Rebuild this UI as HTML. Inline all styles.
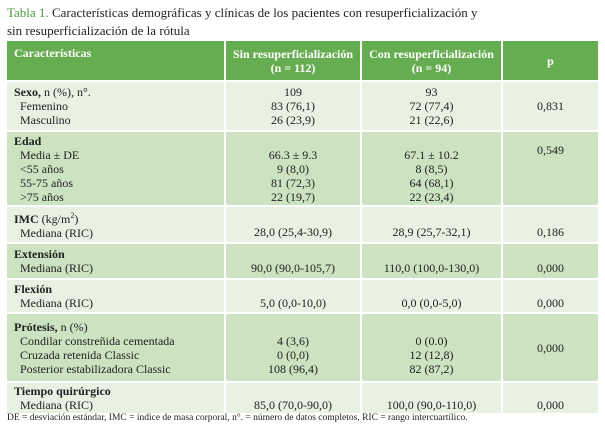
<!DOCTYPE html>
<html><head><meta charset="utf-8"><style>
body{margin:0;width:605px;height:432px;background:#fff;overflow:hidden;font-family:"Liberation Serif",serif;color:#222}
.t{position:absolute;left:7px;font-size:13px;}
table{position:absolute;left:7px;top:41px;width:591px;border-collapse:separate;border-spacing:0;font-size:12px;line-height:14px}
td,th{border-right:2px solid #fff;border-bottom:2px solid #fff;padding:0;vertical-align:middle}
td:last-child,th:last-child{border-right:none}
th{background:#66ad52;color:#fff;font-weight:bold;text-align:center;height:34px}
th.l{text-align:left;padding-left:7px;vertical-align:top;padding-top:5px}
td.l{padding-left:7px;text-align:left}
td{text-align:center}
.a td{background:#e8f1e2}.b td{background:#cbe3c0}
.s{padding-left:6px}
.f{position:absolute;left:7px;top:413px;font-size:9.5px}
</style></head><body>
<div class="t" style="top:5px"><span style="color:#4c9a3e">Tabla 1.</span> Características demográficas y clínicas de los pacientes con resuperficialización y</div>
<div class="t" style="top:23px">sin resuperficialización de la rótula</div>
<table>
<colgroup><col style="width:219px"><col style="width:136px"><col style="width:141px"><col style="width:95px"></colgroup>
<tr><th class="l">Características</th><th>Sin resuperficialización<br>(n = 112)</th><th>Con resuperficialización<br>(n = 94)</th><th>p</th></tr>
<tr class="a" style="height:50px"><td class="l"><b>Sexo,</b> n (%), n°.<br><span class="s">Femenino</span><br><span class="s">Masculino</span></td><td>109<br>83 (76,1)<br>26 (23,9)</td><td>93<br>72 (77,4)<br>21 (22,6)</td><td>0,831</td></tr>
<tr class="b" style="height:75px"><td class="l"><b>Edad</b><br><span class="s">Media ± DE</span><br><span class="s">&lt;55 años</span><br><span class="s">55-75 años</span><br><span class="s">&gt;75 años</span></td><td><br>66.3 ± 9.3<br>9 (8,0)<br>81 (72,3)<br>22 (19,7)</td><td><br>67.1 ± 10.2<br>8 (8,5)<br>64 (68,1)<br>22 (23,4)</td><td style="vertical-align:top;padding-top:11px">0,549</td></tr>
<tr class="a" style="height:37px"><td class="l"><b>IMC</b> (kg/m<sup style="font-size:8px">2</sup>)<br><span class="s">Mediana (RIC)</span></td><td><br>28,0 (25,4-30,9)</td><td><br>28,9 (25,7-32,1)</td><td><br>0,186</td></tr>
<tr class="b" style="height:36px"><td class="l"><b>Extensión</b><br><span class="s">Mediana (RIC)</span></td><td><br>90,0 (90,0-105,7)</td><td><br>110,0 (100,0-130,0)</td><td><br>0,000</td></tr>
<tr class="a" style="height:34px"><td class="l"><b>Flexión</b><br><span class="s">Mediana (RIC)</span></td><td><br>5,0 (0,0-10,0)</td><td><br>0,0 (0,0-5,0)</td><td><br>0,000</td></tr>
<tr class="b" style="height:69px"><td class="l"><b>Prótesis,</b> n (%)<br><span class="s">Condilar constreñida cementada</span><br><span class="s">Cruzada retenida Classic</span><br><span class="s">Posterior estabilizadora Classic</span></td><td><br>4 (3,6)<br>0 (0,0)<br>108 (96,4)</td><td><br>0 (0.0)<br>12 (12,8)<br>82 (87,2)</td><td>0,000</td></tr>
<tr class="a" style="height:32px"><td class="l"><b>Tiempo quirúrgico</b><br><span class="s">Mediana (RIC)</span></td><td><br>85,0 (70,0-90,0)</td><td><br>100,0 (90,0-110,0)</td><td><br>0,000</td></tr>
</table>
<div class="f">DE = desviación estándar, IMC = índice de masa corporal, n°. = número de datos completos, RIC = rango intercuartílico.</div>
</body></html>
